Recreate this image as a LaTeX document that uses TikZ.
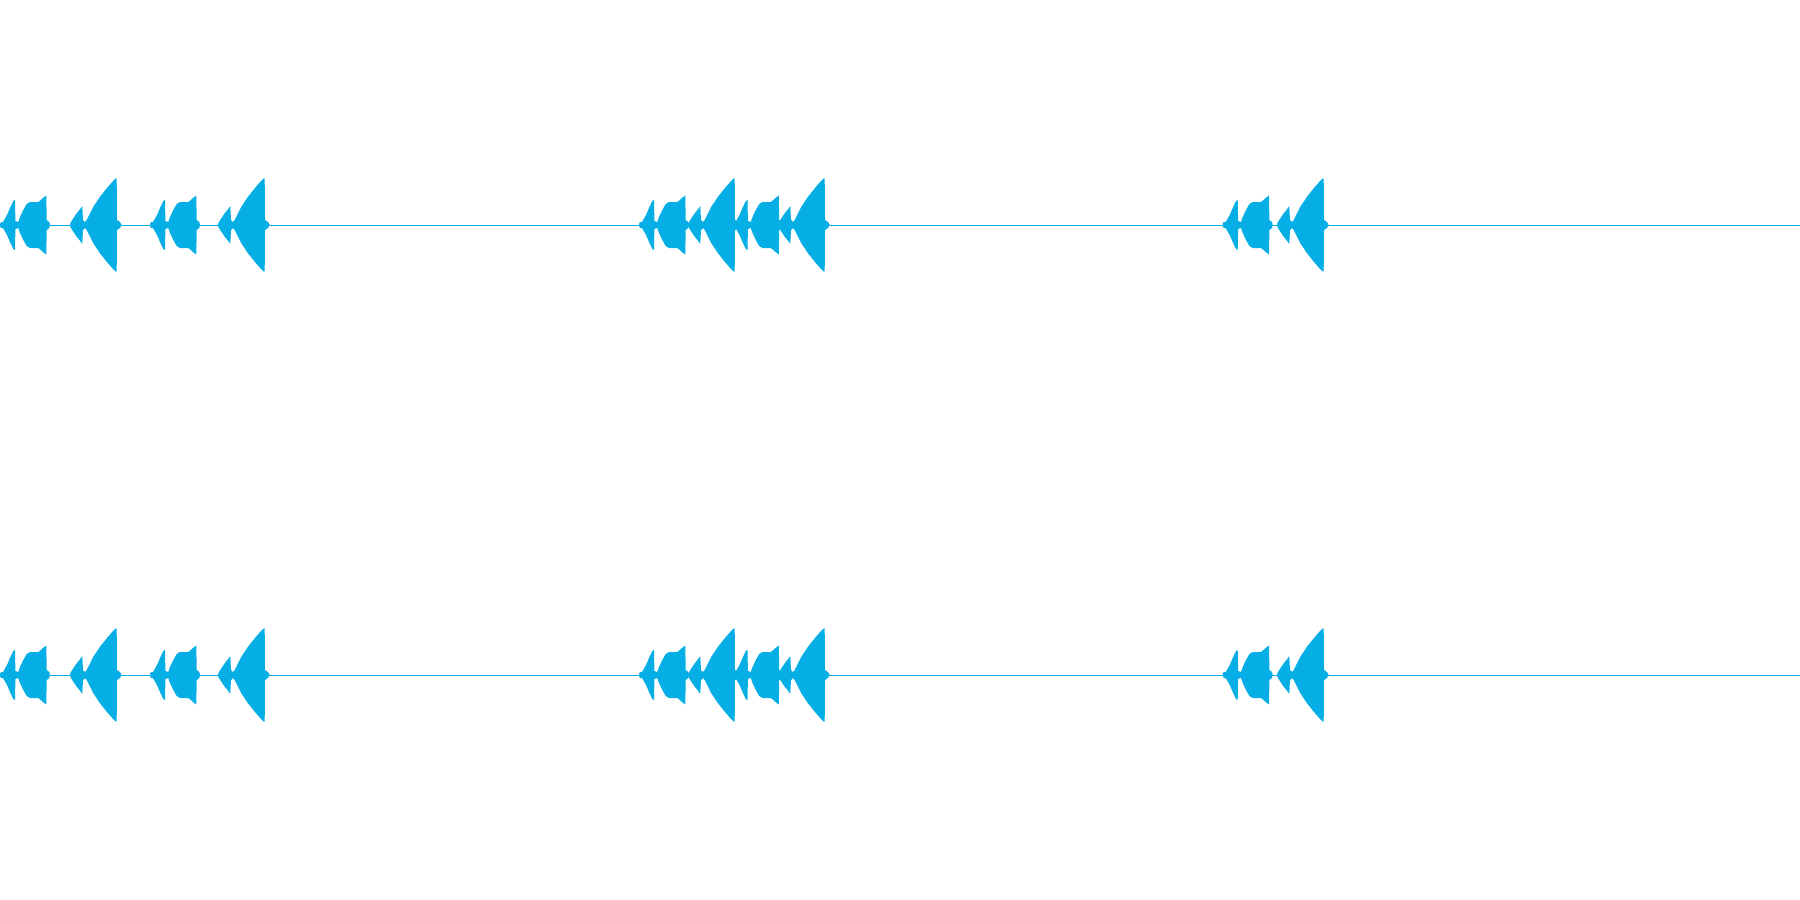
\documentclass[tikz,border=0pt]{standalone}
\usepackage{tikz}
\usepackage{xcolor}

\definecolor{wavecyan}{RGB}{5,175,230}
\tikzset{
  wave/.style={fill=wavecyan, draw=none},
  wave line/.style={draw=wavecyan, line width=0.75pt}
}

% burst with a small spike and a flat hump
\newcommand{\burstA}[2]{%
  \foreach \s in {1,-1}{%
    \fill[wave, shift={(#1,#2)}, yscale=\s] (0,0) -- (0,-1) -- (1,-3) -- (3,-3) -- (7,-10) -- (10,-17) -- (13.3,-24) -- (15,-25) -- (15.4,-4) -- (18.3,-3) -- (20,-8) -- (23.3,-15) -- (26.7,-21) -- (30,-23) -- (38.3,-23) -- (40,-24.3) -- (43.3,-27.3) -- (46.3,-29.5) -- (46.7,-5) -- (49.3,-3) -- (50,0) -- cycle ;
  }}
% burst with a small spike and a large triangle
\newcommand{\burstB}[2]{%
  \foreach \s in {1,-1}{%
    \fill[wave, shift={(#1,#2)}, yscale=\s] (0,0) -- (0,-1) -- (1,-3) -- (3.3,-6.7) -- (6.7,-11.7) -- (10,-15.7) -- (11.7,-18.3) -- (12.3,-18.3) -- (13,-5) -- (15,-3) -- (16.7,-5) -- (20,-11.7) -- (23.3,-18.3) -- (26.7,-23.3) -- (30,-28.3) -- (36.7,-36.7) -- (43.3,-44.3) -- (46,-46.7) -- (46.7,-46.7) -- (47,-5) -- (50,-3) -- (51.7,0) -- cycle ;
  }}

\begin{document}
\begin{tikzpicture}[x=0.75pt,y=0.75pt,yscale=-1,xscale=1]
\useasboundingbox (0,0) rectangle (1800,900);

%Straight Lines: base lines
\draw [wave line] (0,225) -- (1800,225) ;
\draw [wave line] (0,675) -- (1800,675) ;

%Shapes: bursts, both rows
\foreach \y in {225,675}{
  \burstA{0}{\y}
  \burstB{70}{\y}
  \burstA{150}{\y}
  \burstB{218}{\y}
  \burstA{639}{\y}
  \burstB{688}{\y}
  \burstA{732.5}{\y}
  \burstB{778}{\y}
  \burstA{1222.7}{\y}
  \burstB{1277}{\y}
}

\end{tikzpicture}
\end{document}
